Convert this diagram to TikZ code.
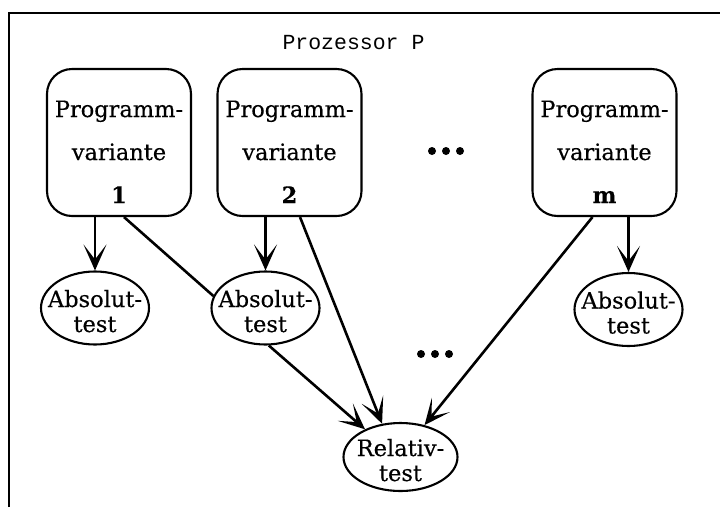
\documentclass[tikz,border=0pt]{standalone}
\usepackage{fontspec}
\setmainfont{DejaVu Serif}[FakeBold=0.4]
\setmonofont{Liberation Mono}
\usetikzlibrary{arrows.meta,shapes.geometric,calc}
\newcommand{\ctr}[1]{\makebox[0pt][c]{#1}}
\begin{document}
\begin{tikzpicture}[x=1pt,y=-1pt,
 box/.style={draw,line width=2.1pt,rounded corners=25pt,minimum width=144pt,minimum height=147pt,inner sep=0pt,align=center,font=\fontsize{22.5}{43}\selectfont,text height=121pt,text depth=0pt},
 test/.style={draw,ellipse,line width=2.1pt,minimum width=108pt,minimum height=73pt,inner sep=0pt,align=center,font=\fontsize{22.5}{25}\selectfont,text height=48pt,text depth=0pt},
 arr/.style={line width=2.6pt,-{Stealth[length=26pt,width=23pt,inset=15pt]}},
 conn/.style={line width=2.6pt},
 dot/.style={circle,fill,inner sep=0pt,minimum size=8pt}]
\useasboundingbox (0,0) rectangle (720,507);
\draw[line width=2.2pt] (9,507) -- (9,13) -- (720,13);
\node[font=\ttfamily\fontsize{21.5}{24}\selectfont] (title) at (353.5,43) {Prozessor P};
\node[box] (b1) at (119,142.5) {Programm-\\variante\\\textbf{1}};
\node[box] (b2) at (289.5,142.5) {Programm-\\variante\\\textbf{2}};
\node[box] (bm) at (604.5,142.5) {Programm-\\variante\\\textbf{m}};
\node[dot] (d1) at (432,151) {};
\node[dot] (d2) at (446,151) {};
\node[dot] (d3) at (460,151) {};
\node[dot] (e1) at (421,354) {};
\node[dot] (e2) at (435,354) {};
\node[dot] (e3) at (449,354) {};
\node[test] (a1) at (95,308) {\ctr{Absolut-}\\\ctr{test}};
\node[test] (a2) at (265.5,308) {\ctr{Absolut-}\\\ctr{test}};
\node[test] (a3) at (628.5,309.5) {\ctr{Absolut-}\\\ctr{test}};
\node[test,minimum width=114pt,minimum height=68pt] (rel) at (400.5,457) {\ctr{Relativ-}\\\ctr{test}};
\draw[arr] (b1.south -| a1.north) -- (a1.north);
\draw[arr] (b2.south -| a2.north) -- (a2.north);
\draw[arr] (bm.south -| a3.north) -- (a3.north);
\draw[conn] ($(b1.south)+(5,0)$) -- (a2.167);
\draw[arr] ($(b2.south)+(10.5,0)$) -- (rel.119);
\draw[arr] (a2.-85) -- (rel.142);
\draw[arr] ($(bm.south)+(-12,0)$) -- (rel.53);
\end{tikzpicture}
\end{document}
